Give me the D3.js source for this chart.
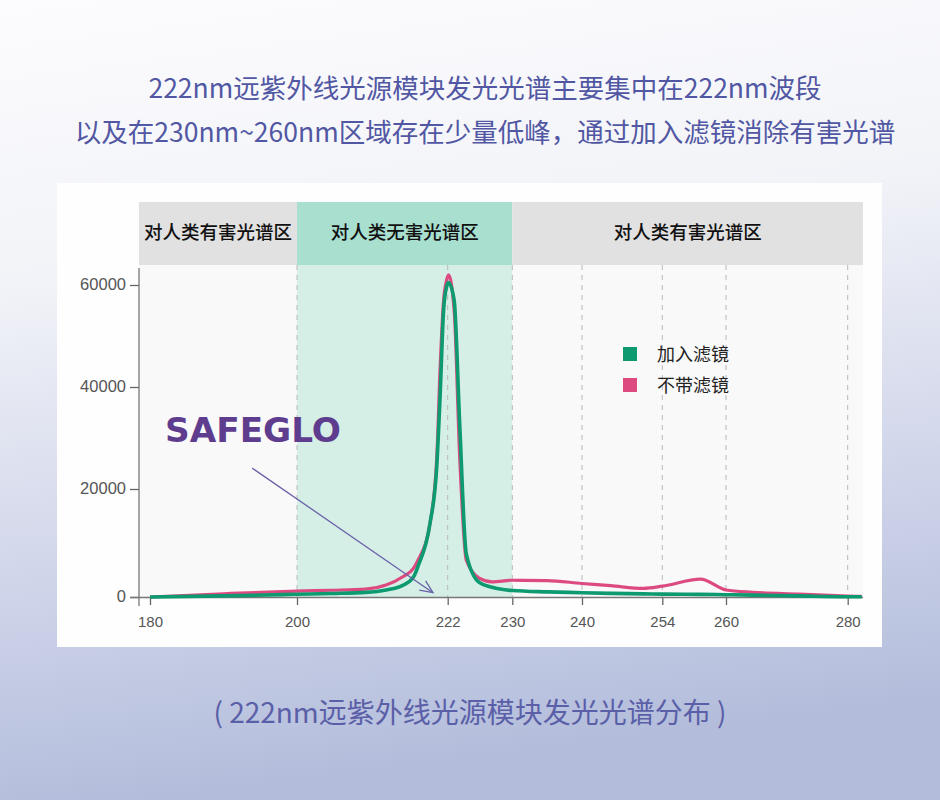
<!DOCTYPE html>
<html lang="zh-CN">
<head>
    <meta charset="UTF-8">
    <title>222nm远紫外线光源模块发光光谱分布</title>
    <style>
        body {
            margin: 0;
            background: #ffffff;
        }
        svg {
            display: block;
        }
        .cjk {
            font-family: "Noto Sans CJK SC", sans-serif;
        }
        .tick text {
            font-family: "Liberation Sans", Arial, sans-serif;
            fill: #555;
        }
        .x-axis .tick text {
            font-size: 15px;
        }
        .y-axis .tick text {
            font-size: 16.5px;
        }
    </style>
</head>
<body>
    <svg id="chart" width="940" height="800"></svg>
    <script src="https://d3js.org/d3.v7.min.js"></script>
    <script>
        // wavelength samples (nm) and the two spectra
        const wavelengths = [180, 190, 200, 205, 210, 213, 215.5, 217, 217.7, 219.4, 220.4, 220.9, 221.4, 221.85,
            222.1, 222.8, 223.5, 224.3, 225.9, 227.5, 230, 235, 240, 245, 250.7, 254, 257.6, 260, 264.4, 272, 280, 282.3];
        const withFilter = [0, 200, 500, 650, 850, 1300, 2200, 3700, 5800, 13500, 24400, 38500, 55100, 59700,
            60500, 57000, 32200, 8000, 2700, 1800, 1200, 950, 800, 680, 580, 530, 480, 430, 350, 200, 50, 40];
        const withoutFilter = [0, 600, 1100, 1250, 1450, 2200, 3800, 5300, 6900, 13500, 26000, 44000, 57000, 61000,
            62000, 55000, 25700, 6850, 3500, 2800, 3100, 3050, 2500, 2100, 1600, 2000, 3300, 1300, 870, 550, 180, 100];

        const xTicks = [180, 200, 222, 230, 240, 254, 260, 280];
        const yTicks = [0, 20000, 40000, 60000];

        const bandLabels = ["对人类有害光谱区", "对人类无害光谱区", "对人类有害光谱区"];
        const bandEdges = [200, 230];
        const gridValues = [200, 222, 230, 240, 254, 260, 280];

        const seriesNames = ["加入滤镜", "不带滤镜"];
        const seriesColors = ["#0d9a70", "#dc4a80"];

        const titleLines = [
            "222nm远紫外线光源模块发光光谱主要集中在222nm波段",
            "以及在230nm~260nm区域存在少量低峰，通过加入滤镜消除有害光谱"
        ];
        const caption = "( 222nm远紫外线光源模块发光光谱分布 )";

        const svg = d3.select("#chart");

        // page background
        const defs = svg.append("defs");
        const bg = defs.append("linearGradient")
            .attr("id", "bg").attr("x1", 0).attr("y1", 0).attr("x2", 0.15).attr("y2", 1);
        bg.append("stop").attr("offset", "0%").attr("stop-color", "#fcfcfe");
        bg.append("stop").attr("offset", "35%").attr("stop-color", "#f2f3f8");
        bg.append("stop").attr("offset", "75%").attr("stop-color", "#ccd2e8");
        bg.append("stop").attr("offset", "100%").attr("stop-color", "#b3bddb");
        svg.append("rect").attr("width", 940).attr("height", 800).attr("fill", "url(#bg)");

        defs.append("marker")
            .attr("id", "arrow")
            .attr("viewBox", "0 0 20 20")
            .attr("refX", 18).attr("refY", 10)
            .attr("markerWidth", 16).attr("markerHeight", 16)
            .attr("markerUnits", "userSpaceOnUse")
            .attr("orient", "auto")
            .append("path")
            .attr("d", "M2,3 L18,10 L2,17")
            .attr("fill", "none")
            .attr("stroke", "#6a62a8")
            .attr("stroke-width", 1.6);

        // titles
        svg.selectAll(".title")
            .data(titleLines)
            .join("text")
            .attr("class", "title cjk")
            .attr("x", 485)
            .attr("y", (d, i) => 98 + i * 44)
            .attr("text-anchor", "middle")
            .attr("font-size", 26.5)
            .attr("fill", "#5157a3")
            .text(d => d);

        // white panel
        svg.append("rect")
            .attr("x", 57).attr("y", 183)
            .attr("width", 825).attr("height", 464)
            .attr("fill", "#fefefe");

        const plotLeft = 139, plotRight = 863, plotTop = 265, plotBottom = 597;

        // non-uniform wavelength axis, as in the original figure
        const x = d3.scaleLinear()
            .domain([180, 200, 222, 230, 240, 254, 260, 280, 282.3])
            .range([150, 297, 447.7, 512.3, 582, 662.3, 726, 847.7, 861.7]);
        const y = d3.scaleLinear()
            .domain([0, 20000, 40000, 60000])
            .range([597, 489, 387, 285]);

        svg.append("rect")
            .attr("x", plotLeft).attr("y", plotTop)
            .attr("width", plotRight - plotLeft).attr("height", plotBottom - plotTop)
            .attr("fill", "#f9f9f9");

        // header bands and safe-zone shading
        const bandX = [plotLeft, x(bandEdges[0]), x(bandEdges[1]), plotRight];
        const bands = bandLabels.map((label, i) => ({ label, x0: bandX[i], x1: bandX[i + 1], safe: i === 1 }));

        svg.append("rect")
            .attr("x", bands[1].x0).attr("y", plotTop)
            .attr("width", bands[1].x1 - bands[1].x0).attr("height", plotBottom - plotTop)
            .attr("fill", "#d5efe7");

        svg.selectAll(".band")
            .data(bands)
            .join("rect")
            .attr("class", "band")
            .attr("x", d => d.x0).attr("y", 202)
            .attr("width", d => d.x1 - d.x0).attr("height", plotTop - 202)
            .attr("fill", d => d.safe ? "#a9dfcf" : "#e1e1e1");

        svg.selectAll(".bandLabel")
            .data(bands)
            .join("text")
            .attr("class", "bandLabel cjk")
            .attr("x", d => (d.x0 + d.x1) / 2)
            .attr("y", 239)
            .attr("text-anchor", "middle")
            .attr("font-size", 18.5)
            .attr("font-weight", 500)
            .attr("fill", "#111")
            .text(d => d.label);

        // dashed guides
        svg.selectAll(".guide")
            .data(gridValues)
            .join("line")
            .attr("class", "guide")
            .attr("x1", d => x(d)).attr("x2", d => x(d))
            .attr("y1", plotTop).attr("y2", plotBottom)
            .attr("stroke", "#b8b8b8")
            .attr("stroke-width", 1)
            .attr("stroke-dasharray", "5,5");

        // axes
        const xAxis = svg.append("g")
            .attr("class", "x-axis")
            .attr("transform", `translate(0,${plotBottom})`)
            .call(d3.axisBottom(x).tickValues(xTicks).tickSize(8).tickSizeOuter(0).tickPadding(11));
        xAxis.select(".domain").remove();
        xAxis.selectAll(".tick line").attr("stroke", "#666").attr("stroke-width", 1.3);

        const yAxis = svg.append("g")
            .attr("class", "y-axis")
            .attr("transform", `translate(${plotLeft},0)`)
            .call(d3.axisLeft(y).tickValues(yTicks).tickFormat(d3.format("d"))
                .tickSize(9).tickSizeOuter(0).tickPadding(4));
        yAxis.select(".domain").remove();
        yAxis.selectAll(".tick line").attr("stroke", "#666").attr("stroke-width", 1.3);
        yAxis.selectAll(".tick text").attr("dy", "0.25em");

        svg.append("line")
            .attr("x1", 130).attr("x2", plotRight)
            .attr("y1", plotBottom + 0.5).attr("y2", plotBottom + 0.5)
            .attr("stroke", "#777").attr("stroke-width", 1.3);
        svg.append("line")
            .attr("x1", plotLeft).attr("x2", plotLeft)
            .attr("y1", 268).attr("y2", 606)
            .attr("stroke", "#777").attr("stroke-width", 1.3);

        // spectra: unfiltered drawn first, filtered on top
        const line = d3.line()
            .x((d, i) => x(wavelengths[i]))
            .y(d => y(d))
            .curve(d3.curveMonotoneX);

        svg.append("path")
            .attr("d", line(withoutFilter))
            .attr("fill", "none")
            .attr("stroke", seriesColors[1])
            .attr("stroke-width", 3.2)
            .attr("stroke-linejoin", "round");

        svg.append("path")
            .attr("d", line(withFilter))
            .attr("fill", "none")
            .attr("stroke", seriesColors[0])
            .attr("stroke-width", 3.6)
            .attr("stroke-linejoin", "round");

        // legend
        const legend = svg.selectAll(".legend")
            .data(seriesNames)
            .join("g")
            .attr("class", "legend")
            .attr("transform", (d, i) => `translate(623,${347 + i * 31})`);
        legend.append("rect")
            .attr("width", 14).attr("height", 14)
            .attr("fill", (d, i) => seriesColors[i]);
        legend.append("text")
            .attr("class", "cjk")
            .attr("x", 34).attr("y", 14)
            .attr("font-size", 18)
            .attr("fill", "#222")
            .text(d => d);

        // logo + pointer
        svg.append("text")
            .attr("x", 165).attr("y", 442)
            .attr("font-family", "DejaVu Sans, sans-serif")
            .attr("font-weight", "bold")
            .attr("font-size", 33)
            .attr("textLength", 176)
            .attr("lengthAdjust", "spacingAndGlyphs")
            .attr("fill", "#5e3d8f")
            .text("SAFEGLO");

        svg.append("line")
            .attr("x1", x(193.9)).attr("y1", y(24100))
            .attr("x2", x(219.85)).attr("y2", y(800))
            .attr("stroke", "#6a62a8")
            .attr("stroke-width", 1.3)
            .attr("marker-end", "url(#arrow)");

        // caption
        svg.append("text")
            .attr("class", "cjk")
            .attr("x", 470).attr("y", 723)
            .attr("text-anchor", "middle")
            .attr("font-size", 28)
            .attr("fill", "#5a5fa8")
            .text(caption);
    </script>
</body>
</html>
